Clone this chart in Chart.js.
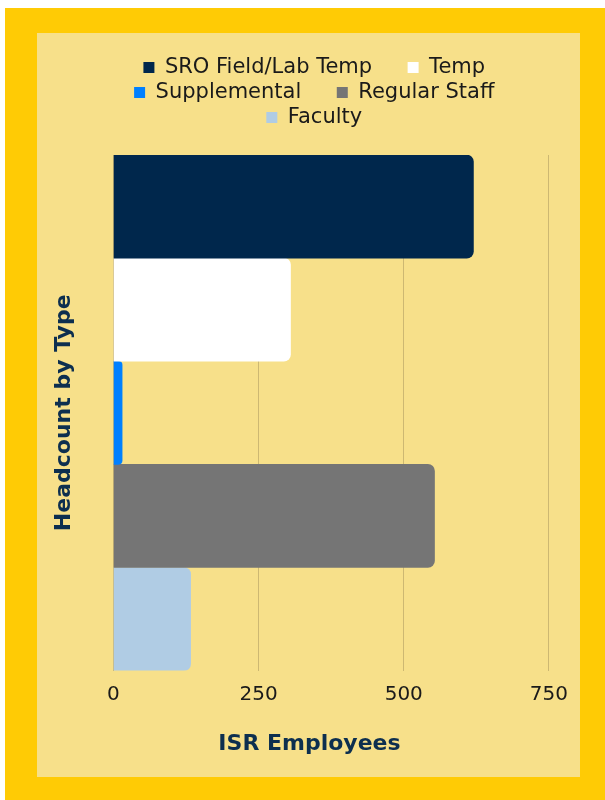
<!DOCTYPE html>
<html>
<head>
<meta charset="utf-8">
<script src="https://cdn.jsdelivr.net/npm/chart.js@4"></script>
<style>
  html, body { margin: 0; padding: 0; background: #ffffff; }
  #outer { position: absolute; left: 5px; top: 8px; width: 600px; height: 792px; background: #FFCB05; }
  #inner { position: absolute; left: 32px; top: 25px; width: 543px; height: 744px; background: #F7E08A; }
  canvas { display: block; }
</style>
</head>
<body>
<div id="outer"><div id="inner"><canvas id="c" width="543" height="744"></canvas></div></div>
<script>
const categories = [''];
const seriesNames = ['SRO Field/Lab Temp', 'Temp', 'Supplemental', 'Regular Staff', 'Faculty'];
const seriesValues = [620, 305, 15, 553, 133];
const seriesColors = ['#00274C', '#FFFFFF', '#0080FF', '#757575', '#B0CCE4'];
const xTicks = [0, 250, 500, 750];

const FONT = '"DejaVu Sans", sans-serif';
const LEGEND_SPACER = '\u2003\u2002';
const LEGEND_ROW_WIDTH = 465;
const LEGEND_CENTER = 293;
const LEGEND_GAP = 17;

const datasets = seriesNames.map((n, i) => ({
  label: n,
  data: [seriesValues[i]],
  backgroundColor: seriesColors[i],
  borderWidth: 0,
  borderRadius: 7,
  borderSkipped: 'start',
  categoryPercentage: 1,
  barPercentage: 1
}));

const legendTweaks = {
  id: 'legendTweaks',
  beforeLayout(chart) {
    const lg = chart.legend;
    if (!lg || lg._tweaked) return;
    lg._tweaked = true;
    const fit = lg.fit;
    lg.fit = function () {
      const mw = this.maxWidth;
      this.maxWidth = LEGEND_ROW_WIDTH;
      fit.call(this);
      this.maxWidth = mw;
      this.width = mw;
      this.height += LEGEND_GAP;
    };
    const draw = lg.draw;
    lg.draw = function () {
      const l = this.left, r = this.right;
      this.left = LEGEND_CENTER - LEGEND_ROW_WIDTH / 2;
      this.right = LEGEND_CENTER + LEGEND_ROW_WIDTH / 2;
      draw.call(this);
      this.left = l;
      this.right = r;
    };
  }
};

new Chart(document.getElementById('c'), {
  type: 'bar',
  data: { labels: categories, datasets },
  plugins: [legendTweaks],
  options: {
    indexAxis: 'y',
    responsive: false,
    animation: false,
    layout: { padding: { top: 20, right: 12, left: 14, bottom: 8 } },
    plugins: {
      legend: {
        position: 'top',
        labels: {
          font: { family: FONT, size: 21 },
          color: '#1a1a1a',
          boxWidth: 11,
          boxHeight: 11,
          padding: 4,
          generateLabels(chart) {
            const items = Chart.defaults.plugins.legend.labels.generateLabels(chart);
            items.forEach(it => { it.text = it.text + LEGEND_SPACER; });
            return items;
          }
        }
      },
      title: {
        display: true,
        position: 'bottom',
        text: 'ISR Employees',
        color: '#0D2F4F',
        font: { family: FONT, size: 22, weight: 'bold' },
        padding: { top: 12, bottom: 12 }
      },
      tooltip: { enabled: false }
    },
    scales: {
      x: {
        min: 0,
        max: 750,
        afterBuildTicks: (s) => { s.ticks = xTicks.map(v => ({ value: v })); },
        ticks: { font: { family: FONT, size: 20 }, color: '#1a1a1a', padding: 12 },
        grid: { color: '#CDB872', drawTicks: false },
        border: { display: false }
      },
      y: {
        ticks: { display: false },
        grid: { display: false, drawTicks: false },
        border: { display: true, color: '#CDB872' },
        title: {
          display: true,
          text: 'Headcount by Type',
          color: '#0D2F4F',
          font: { family: FONT, size: 22, weight: 'bold' },
          padding: { top: 0, bottom: 36 }
        }
      }
    }
  }
});
</script>
</body>
</html>
